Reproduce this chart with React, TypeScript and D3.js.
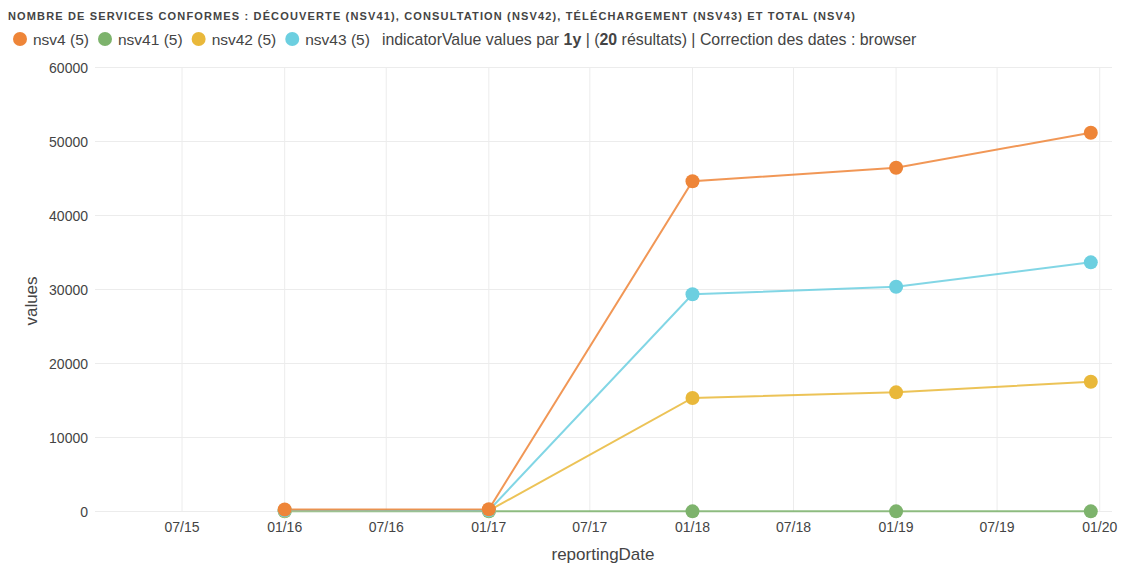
import React, { useEffect, useRef } from "react";
import * as d3 from "d3";

const dates = ["2016-01-01", "2017-01-01", "2018-01-01", "2019-01-01", "2019-12-16"];
const nsv4 = [270, 300, 44620, 46460, 51190];
const nsv41 = [30, 30, 20, 20, 20];
const nsv42 = [110, 120, 15340, 16100, 17540];
const nsv43 = [130, 150, 29350, 30380, 33670];
const seriesNames = ["nsv4", "nsv41", "nsv42", "nsv43"];
const seriesColors = ["#ee8538", "#7db36c", "#e9b83a", "#6ccfe0"];
const yTicks = [0, 10000, 20000, 30000, 40000, 50000, 60000];
const xDomain = ["2015-01-26", "2020-01-23"];
const title = "NOMBRE DE SERVICES CONFORMES : DÉCOUVERTE (NSV41), CONSULTATION (NSV42), TÉLÉCHARGEMENT (NSV43) ET TOTAL (NSV4)";

const W = 1128, H = 568;
const M = { left: 95, right: 16, top: 67.5, bottom: 56.5 };
const FONT = "'Liberation Sans', Arial, sans-serif";

export default function App() {
  const ref = useRef<SVGSVGElement>(null);
  useEffect(() => {
    const svg = d3.select(ref.current);
    svg.selectAll("*").remove();
    const values = [nsv4, nsv41, nsv42, nsv43];
    const parse = d3.utcParse("%Y-%m-%d");
    const x = d3.scaleUtc().domain(xDomain.map((d) => parse(d)!)).range([M.left, W - M.right]);
    const y = d3.scaleLinear().domain([0, 60000]).range([H - M.bottom, M.top]);
    const xTicks = d3.utcMonth.every(6)!.range(parse("2015-07-01")!, parse("2020-01-02")!);

    // title
    svg.append("text").attr("x", 8).attr("y", 20).attr("font-family", FONT).attr("font-weight", "bold")
      .attr("font-size", 11).attr("fill", "#444").attr("textLength", 847).attr("lengthAdjust", "spacing")
      .text(title);

    // legend
    const lg = svg.append("g").attr("font-family", FONT).attr("font-size", 15.5).attr("fill", "#444");
    let cx = 13;
    seriesNames.forEach((n, i) => {
      lg.append("circle").attr("cx", cx + 7).attr("cy", 39).attr("r", 7).attr("fill", seriesColors[i]);
      const t = lg.append("text").attr("x", cx + 20).attr("y", 44.5).text(`${n} (5)`);
      const w = (t.node() as SVGTextElement).getComputedTextLength();
      cx = cx + 20 + w + 9;
    });
    const info = lg.append("text").attr("x", cx + 3).attr("y", 44.5).attr("font-size", 15.9);
    info.append("tspan").text("indicatorValue values par ");
    info.append("tspan").attr("font-weight", "bold").text("1y");
    info.append("tspan").text(" | (");
    info.append("tspan").attr("font-weight", "bold").text("20");
    info.append("tspan").text(" résultats) | Correction des dates : browser");

    // grid
    const g = svg.append("g");
    g.selectAll(".hg").data(yTicks).join("line").attr("x1", M.left).attr("x2", W - M.right)
      .attr("y1", (d) => y(d)).attr("y2", (d) => y(d)).attr("stroke", "#ececec").attr("stroke-width", 1);
    g.selectAll(".vg").data(xTicks).join("line").attr("x1", (d) => x(d)).attr("x2", (d) => x(d))
      .attr("y1", M.top).attr("y2", H - M.bottom).attr("stroke", "#ececec").attr("stroke-width", 1);

    // axes labels
    const ax = svg.append("g").attr("font-family", FONT).attr("fill", "#444");
    ax.selectAll(".yt").data(yTicks).join("text").attr("x", 88).attr("y", (d) => y(d) + 5)
      .attr("text-anchor", "end").attr("font-size", 14).text((d) => String(d));
    const fmt = d3.utcFormat("%m/%y");
    ax.selectAll(".xt").data(xTicks).join("text").attr("x", (d) => x(d)).attr("y", 532)
      .attr("text-anchor", "middle").attr("font-size", 14).text((d) => fmt(d));
    ax.append("text").attr("x", 603).attr("y", 560).attr("text-anchor", "middle").attr("font-size", 17)
      .text("reportingDate");
    ax.append("text").attr("transform", `translate(37,301) rotate(-90)`)
      .attr("text-anchor", "middle").attr("font-size", 17).text("values");

    // lines and points
    const order = [1, 2, 3, 0];
    const line = d3.line<number>().x((_, i) => x(parse(dates[i])!)).y((d) => y(d));
    order.forEach((si) => {
      svg.append("path").attr("d", line(values[si])!).attr("fill", "none")
        .attr("stroke", seriesColors[si]).attr("stroke-width", 2).attr("stroke-opacity", 0.85);
    });
    order.forEach((si) => {
      svg.append("g").selectAll("circle").data(values[si]).join("circle")
        .attr("cx", (_, i) => x(parse(dates[i])!)).attr("cy", (d) => y(d)).attr("r", 7)
        .attr("fill", seriesColors[si]);
    });
  }, []);
  return <svg ref={ref} width={W} height={H} style={{ position: "absolute", left: 0, top: 0, background: "#fff" }} />;
}
